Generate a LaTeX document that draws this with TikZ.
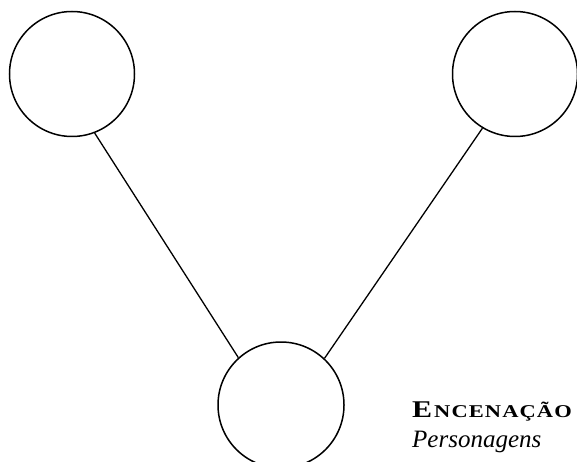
\documentclass[tikz,border=0pt]{standalone}
\usepackage{fontspec}
\setmainfont{Liberation Serif}

\tikzset{
  role/.style={draw, circle, line width=1.5pt, minimum size=125pt, inner sep=0pt},
  link/.style={line width=1.3pt}
}

\begin{document}
\begin{tikzpicture}[x=1pt,y=-1pt]
  \useasboundingbox (0,0) rectangle (577,462);
  \node[role] (left) at (72,74) {};
  \node[role] (right) at (515,74) {};
  \node[role, minimum size=126pt] (scene) at (281,405) {};
  \draw[link] (left.-69) -- (scene.132);
  \draw[link] (right.-121) -- (scene.47);
  \node[anchor=base west, inner sep=0pt] (title) at (412,417)
    {\bfseries\addfontfeature{FakeStretch=1.25}\fontsize{24}{24}\selectfont E\kern2pt{\fontsize{18}{18}\selectfont\addfontfeature{LetterSpace=6}NCENAÇÃO}};
  \node[anchor=base west, inner sep=0pt] (cast) at (412,447)
    {\fontsize{25}{25}\selectfont\itshape Personagens};
\end{tikzpicture}
\end{document}
